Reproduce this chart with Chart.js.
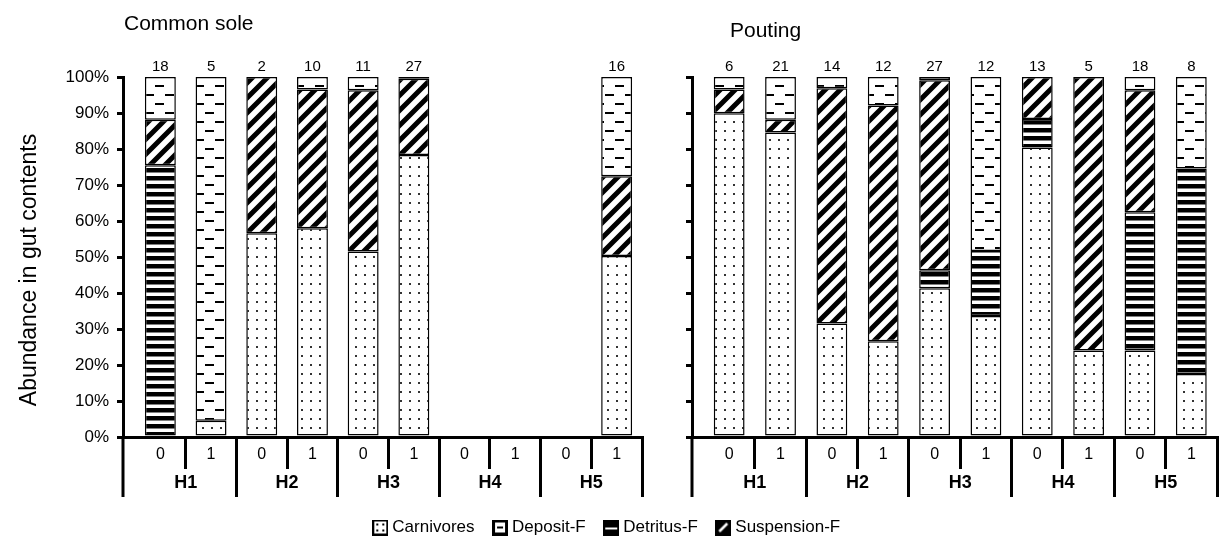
<!DOCTYPE html>
<html>
<head>
<meta charset="utf-8">
<script src="https://cdn.jsdelivr.net/npm/chart.js@4"></script>
<style>
  html, body { margin:0; padding:0; background:#fff; }
  #wrap { position:relative; width:1219px; height:549px; }
  #wrap canvas { position:absolute; left:0; top:0; }
</style>
</head>
<body>
<div id="wrap">
  <canvas id="poutingChart" width="1219" height="549" style="width:1219px;height:549px"></canvas>
  <canvas id="soleChart" width="660" height="549" style="width:660px;height:549px"></canvas>
</div>
<script>
// categories
const groupLabels = ['H1', 'H2', 'H3', 'H4', 'H5'];
const sideLabels = ['0', '1', '0', '1', '0', '1', '0', '1', '0', '1'];

// Common sole (% of gut contents), n on top of bars
const soleN           = [18, 5, 2, 10, 11, 27, null, null, null, 16];
const soleCarnivores  = [0, 4.5, 56.6, 58, 51.5, 78.3, null, null, null, 50.3];
const soleDetritus    = [75.5, 0, 0, 0, 0, 0, null, null, null, 0];
const soleSuspension  = [12.6, 0, 43.4, 38.5, 44.8, 21.2, null, null, null, 22.1];
const soleDeposit     = [11.9, 95.5, 0, 3.5, 3.7, 0.5, null, null, null, 27.6];

// Pouting
const poutN           = [6, 21, 14, 12, 27, 12, 13, 5, 18, 8];
const poutCarnivores  = [89.9, 84.6, 31.5, 26.6, 41.3, 33.6, 80.4, 24, 24, 17.5];
const poutDetritus    = [0, 0, 0, 0, 5.0, 18.1, 7.9, 0, 38.4, 57.1];
const poutSuspension  = [6.6, 3.5, 65.4, 65.5, 52.8, 0, 11.7, 76, 33.9, 0];
const poutDeposit     = [3.5, 11.9, 3.1, 7.9, 0.9, 48.3, 0, 0, 3.7, 25.4];

const names = { carnivores: 'Carnivores', deposit: 'Deposit-F', detritus: 'Detritus-F', suspension: 'Suspension-F' };
const stackOrder = ['carnivores', 'detritus', 'suspension', 'deposit'];   // bottom -> top
const legendOrder = ['carnivores', 'deposit', 'detritus', 'suspension'];

const FONT = "'Liberation Sans', Arial, sans-serif";
Chart.defaults.font.family = FONT;
Chart.defaults.color = '#000';

function makePattern(kind){
  const c = document.createElement('canvas');
  const g = c.getContext('2d');
  if (kind === 'carnivores') {
    c.width = 9; c.height = 9;
    g.fillStyle = '#fff'; g.fillRect(0, 0, 9, 9);
    g.fillStyle = '#333'; g.fillRect(4, 4, 2, 2);
  } else if (kind === 'deposit') {
    c.width = 20; c.height = 18;
    g.fillStyle = '#fff'; g.fillRect(0, 0, 20, 18);
    g.fillStyle = '#000';
    g.fillRect(5, 4, 9, 2);
    g.fillRect(15, 13, 5, 2); g.fillRect(0, 13, 4, 2);
  } else if (kind === 'detritus') {
    c.width = 8; c.height = 8;
    g.fillStyle = '#fff'; g.fillRect(0, 0, 8, 8);
    g.fillStyle = '#000'; g.fillRect(0, 0, 8, 4.5);
  } else {
    const s = 15;
    c.width = s; c.height = s;
    g.fillStyle = '#fff'; g.fillRect(0, 0, s, s);
    g.strokeStyle = '#000'; g.lineWidth = 5;
    g.beginPath();
    g.moveTo(-4, 4); g.lineTo(4, -4);
    g.moveTo(0, s); g.lineTo(s, 0);
    g.moveTo(s - 4, s + 4); g.lineTo(s + 4, s - 4);
    g.stroke();
  }
  return g.createPattern(c, 'repeat');
}

function makeIcon(kind){
  const s = 16;
  const c = document.createElement('canvas'); c.width = s; c.height = s;
  const g = c.getContext('2d');
  g.fillStyle = '#000'; g.fillRect(0, 0, s, s);
  g.fillStyle = '#fff';
  if (kind === 'carnivores') {
    g.fillRect(2, 2, 12, 12);
    g.fillStyle = '#000';
    [[4,4],[10,4],[4,10],[10,10]].forEach(p => g.fillRect(p[0], p[1], 2, 2));
  } else if (kind === 'deposit') {
    g.fillRect(3, 3, 10, 10);
    g.fillStyle = '#000'; g.fillRect(5, 7, 6, 2);
  } else if (kind === 'detritus') {
    g.fillRect(2, 8, 12, 2);
  } else {
    g.strokeStyle = '#fff'; g.lineWidth = 2.5;
    g.beginPath(); g.moveTo(4, 12); g.lineTo(12, 4); g.stroke();
  }
  return c;
}

const patterns = {}, icons = {};
stackOrder.forEach(k => { patterns[k] = makePattern(k); icons[k] = makeIcon(k); });

// shift the category range right of the y axis (gap between axis and first bar)
const axisGap = {
  id: 'axisGap',
  afterLayout(chart, args, opts){
    ['x', 'x2'].forEach(id => {
      const s = chart.scales[id];
      s._startPixel += opts.gap;
      s._length -= opts.gap;
    });
  }
};

// n above each bar
const counts = {
  id: 'counts',
  afterDatasetsDraw(chart, args, opts){
    const ctx = chart.ctx;
    ctx.save();
    ctx.font = '15px ' + FONT; ctx.fillStyle = '#000';
    ctx.textAlign = 'center'; ctx.textBaseline = 'alphabetic';
    opts.values.forEach((n, i) => {
      if (n == null) return;
      let top = Infinity, x = null;
      chart.data.datasets.forEach((ds, d) => {
        const el = chart.getDatasetMeta(d).data[i];
        if (el && ds.data[i]) { top = Math.min(top, el.y); x = el.x; }
      });
      if (x !== null) ctx.fillText(String(n), x, top - 6);
    });
    ctx.restore();
  }
};

// y axis continues down as the first bracket of the category axis
const bracket = {
  id: 'bracket',
  afterDraw(chart){
    const {ctx, chartArea, scales} = chart;
    ctx.save();
    ctx.strokeStyle = '#000'; ctx.lineWidth = 3;
    ctx.beginPath();
    ctx.moveTo(chartArea.left, chartArea.bottom);
    ctx.lineTo(chartArea.left, scales.x2.bottom);
    ctx.stroke();
    ctx.restore();
  }
};

// panel title and (left panel only) the y axis title
const panelTitle = {
  id: 'panelTitle',
  afterDraw(chart, args, opts){
    const ctx = chart.ctx;
    ctx.save();
    ctx.font = '21px ' + FONT; ctx.fillStyle = '#000';
    ctx.textAlign = 'left'; ctx.textBaseline = 'alphabetic';
    ctx.fillText(opts.text, chart.chartArea.left + opts.dx, opts.baseline);
    if (opts.yTitle) {
      ctx.font = '23px ' + FONT;
      ctx.textAlign = 'center'; ctx.textBaseline = 'middle';
      ctx.translate(opts.yTitle.x, opts.yTitle.y);
      ctx.rotate(-Math.PI / 2);
      ctx.fillText(opts.yTitle.text, 0, 0);
    }
    ctx.restore();
  }
};

const hideFirst = c => c.index === 0 ? 'rgba(0,0,0,0)' : '#000';

function buildChart(id, cfg){
  const datasets = stackOrder.map(k => ({
    label: names[k],
    data: cfg.series[k],
    backgroundColor: patterns[k],
    borderColor: '#000',
    borderWidth: 1.5,
    borderSkipped: false,
    categoryPercentage: 1,
    barPercentage: cfg.barPct
  }));
  return new Chart(document.getElementById(id), {
    type: 'bar',
    data: { labels: sideLabels, datasets },
    options: {
      responsive: false, animation: false, events: [],
      layout: { padding: cfg.padding },
      scales: {
        x: {
          stacked: true, offset: true, weight: 0,
          grid: { offset: true, drawOnChartArea: false, tickLength: 32, lineWidth: 3, color: hideFirst },
          border: { display: true, width: 3, color: '#000' },
          ticks: { padding: -24, font: { size: 16 }, maxRotation: 0, autoSkip: false },
          afterFit: s => { s.height = 32; }
        },
        x2: {
          type: 'category', labels: groupLabels, position: 'bottom', offset: true, weight: 1,
          grid: { offset: true, drawOnChartArea: false, tickLength: 28, lineWidth: 3, color: hideFirst },
          border: { display: false },
          ticks: { padding: -25, font: { size: 18, weight: 'bold' }, maxRotation: 0, autoSkip: false },
          afterFit: s => { s.height = 28; }
        },
        y: {
          stacked: true, min: 0, max: 100,
          ticks: { stepSize: 10, display: cfg.showY, padding: 8, font: { size: 17 }, callback: v => v + '%' },
          grid: { drawOnChartArea: false, tickLength: 6, lineWidth: 3, color: '#000' },
          border: { display: true, width: 3, color: '#000' },
          afterFit: s => { s.width = cfg.yWidth; }
        }
      },
      plugins: {
        legend: cfg.legend,
        tooltip: { enabled: false },
        axisGap: { gap: cfg.gap },
        counts: { values: cfg.n },
        panelTitle: cfg.title
      }
    },
    plugins: [axisGap, counts, bracket, panelTitle]
  });
}

buildChart('poutingChart', {
  series: { carnivores: poutCarnivores, detritus: poutDetritus, suspension: poutSuspension, deposit: poutDeposit },
  n: poutN, barPct: 0.6, gap: 11.5, yWidth: 692, showY: false,
  padding: { top: 77, right: 2, bottom: 3, left: 0 },
  title: { text: 'Pouting', dx: 38, baseline: 37 },
  legend: {
    display: true, position: 'bottom',
    labels: {
      usePointStyle: true, pointStyleWidth: 7, boxHeight: 17,
      font: { size: 17 }, padding: 22,
      generateLabels: () => legendOrder.map(k => ({
        text: names[k], pointStyle: icons[k], fillStyle: '#000', strokeStyle: '#000',
        lineWidth: 0, hidden: false, datasetIndex: stackOrder.indexOf(k)
      }))
    }
  }
});

buildChart('soleChart', {
  series: { carnivores: soleCarnivores, detritus: soleDetritus, suspension: soleSuspension, deposit: soleDeposit },
  n: soleN, barPct: 0.61, gap: 12, yWidth: 123, showY: true,
  padding: { top: 77, right: 18, bottom: 52, left: 0 },
  title: { text: 'Common sole', dx: 1, baseline: 30,
           yTitle: { text: 'Abundance in gut contents', x: 30, y: 270 } },
  legend: { display: false }
});
</script>
</body>
</html>
